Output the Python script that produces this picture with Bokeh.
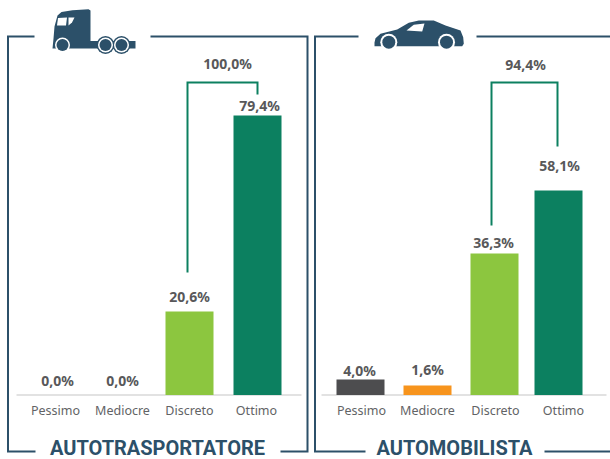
from bokeh.embed import file_html
from bokeh.resources import INLINE
from bokeh.plotting import figure
from bokeh.models import Range1d, ColumnDataSource, LinearAxis, FixedTicker
from bokeh.core.properties import value

# ---- data
categories = ["Pessimo", "Mediocre", "Discreto", "Ottimo"]
truck_labels = ["0,0%", "0,0%", "20,6%", "79,4%"]
car_labels = ["4,0%", "1,6%", "36,3%", "58,1%"]
truck_heights = [0.0, 0.0, 23.7, 79.4]
car_heights = [4.4, 2.7, 40.2, 58.1]
truck_total = "100,0%"
car_total = "94,4%"
truck_title = "AUTOTRASPORTATORE"
car_title = "AUTOMOBILISTA"

# ---- styles and layout
NAVY = "#2c5069"
GREEN = "#0c8060"
TEXT = "#58585a"
AXIS_TEXT = "#626365"
bar_colors = ["#4d4d4f", "#f7941d", "#8cc63f", "#0c8060"]
VALUE_FONT = "Noto Sans"
PITCH = 67
TRUCK_ORIGIN = 55
CAR_ORIGIN = 360
n = len(categories)
tick_nudge = [0, 0, 0, 0, 1, 0, 1, 2]
bar_nudge = [2, 0, 0, 1, 0, 0, 0, -3]
text_nudge = [2, 0, 0, 3, -1, 0, -1, -2]
slots = [TRUCK_ORIGIN + PITCH * i for i in range(n)] + [CAR_ORIGIN + PITCH * i for i in range(n)]
ticks = [s + d for s, d in zip(slots, tick_nudge)]

PX_PER_UNIT = 3.52
BASE = 394.5
W, H = 610, 459
y_range = Range1d(-(H - BASE) / PX_PER_UNIT, BASE / PX_PER_UNIT)

p = figure(width=W, height=H, x_range=Range1d(0, W), y_range=y_range,
           output_backend="svg", toolbar_location=None, min_border=0,
           x_axis_type=None, y_axis_type=None, outline_line_color=None,
           background_fill_color="white", border_fill_color="white")
p.grid.visible = False
p.extra_y_ranges = {"px": Range1d(H, 0)}

# category axis, resting on the baseline
axis = LinearAxis(fixed_location=0, ticker=FixedTicker(ticks=ticks),
                  major_label_overrides={t: c for t, c in zip(ticks, categories * 2)})
axis.axis_line_color = None
axis.major_tick_line_color = None
axis.minor_tick_line_color = None
axis.major_label_text_color = AXIS_TEXT
axis.major_label_text_font = "Noto Sans"
axis.major_label_text_font_size = "12.5px"
axis.major_label_standoff = 1
p.add_layout(axis, "below")

def px_line(xs, ys, color, width):
    p.line(xs, ys, y_range_name="px", line_color=color, line_width=width, line_join="miter")

# baselines
px_line([16, 301], [BASE, BASE], "#d9d9d9", 1.5)
px_line([321, 606], [BASE, BASE], "#d9d9d9", 1.5)

# bars
src = ColumnDataSource(dict(
    x=[s + d for s, d in zip(slots, bar_nudge)],
    xt=[s + d for s, d in zip(slots, text_nudge)],
    top=truck_heights + car_heights,
    color=bar_colors * 2,
    label=truck_labels + car_labels,
    dy=[-14.5, -14.5, -15, -10, -9, -16, -11, -25],
))
p.vbar(x="x", top="top", bottom=0, width=48, fill_color="color", line_color=None, source=src)
p.text(x="xt", y="top", text="label", y_offset="dy", source=src,
       text_align="center", text_baseline="middle", text_color=TEXT,
       text_font=value(VALUE_FONT), text_font_style="bold", text_font_size="14px")

# comparison brackets
px_line([187, 187, 257, 257], [272, 82, 82, 94], GREEN, 2)
px_line([491, 491, 557, 557], [225, 82, 82, 146], GREEN, 2)
p.text(x=[227, 525], y=[63, 64], text=[truck_total, car_total], y_range_name="px",
       text_align="center", text_baseline="middle", text_color=TEXT,
       text_font=value(VALUE_FONT), text_font_style="bold", text_font_size="14px")

# panel frames
px_line([34, 7.5, 7.5, 35], [36, 36, 451, 451], NAVY, 2)
px_line([150, 307, 307, 280], [36, 36, 451, 451], NAVY, 2)
px_line([358, 314.5, 314.5, 365], [36, 36, 451, 451], NAVY, 2)
px_line([476, 610], [36, 36], NAVY, 2)
px_line([544, 610], [451, 451], NAVY, 2)
p.text(x=[157, 454], y=[447.5, 447.5], text=[truck_title, car_title], y_range_name="px",
       text_align="center", text_baseline="middle", text_color=NAVY,
       text_font=value("Roboto"), text_font_style="bold", text_font_size="20px")

# truck icon
truck_x = [52, 53, 54, 57, 61, 72, 88, 90, 90, 135, 135, 52]
truck_y = [48, 38, 26, 15, 11.5, 9.7, 8.7, 10, 40.5, 40.5, 48, 48]
p.patch(truck_x, truck_y, y_range_name="px", fill_color=NAVY, line_color=None)
p.patches([[57.5, 66.5, 65.5, 56.5], [68, 74, 71.5, 68]], [[17.5, 17, 25, 25], [17, 17, 22, 25]],
          y_range_name="px", fill_color="white", line_color=None)
p.scatter([105, 121], [44.5] * 2, size=18, y_range_name="px", fill_color=NAVY, line_color=None)
p.scatter([62, 105, 121], [44.5] * 3, size=15, y_range_name="px", fill_color="white", line_color=None)
p.scatter([62, 105, 121], [44.5] * 3, size=12, y_range_name="px", fill_color=NAVY, line_color=None)

# car icon
car_x = [374, 375, 380, 396.7, 408.3, 418.3, 433.3, 445, 460, 462.7, 463.3, 461.7, 374]
car_y = [42, 37.7, 33.3, 29, 22.3, 20, 20, 25, 30, 36.7, 43.3, 45.7, 45.7]
p.patch(car_x, car_y, y_range_name="px", fill_color=NAVY, line_color=None)
p.patch([406, 413.3, 424, 421.7], [30, 24.3, 23, 31], y_range_name="px", fill_color="white", line_color=None)
p.scatter([388.3, 446], [41.7, 41.7], size=17, y_range_name="px", fill_color="white", line_color=None)
p.scatter([388.3, 446], [41.7, 41.7], size=13, y_range_name="px", fill_color=NAVY, line_color=None)

open("out.html", "w").write(file_html(p, INLINE))
